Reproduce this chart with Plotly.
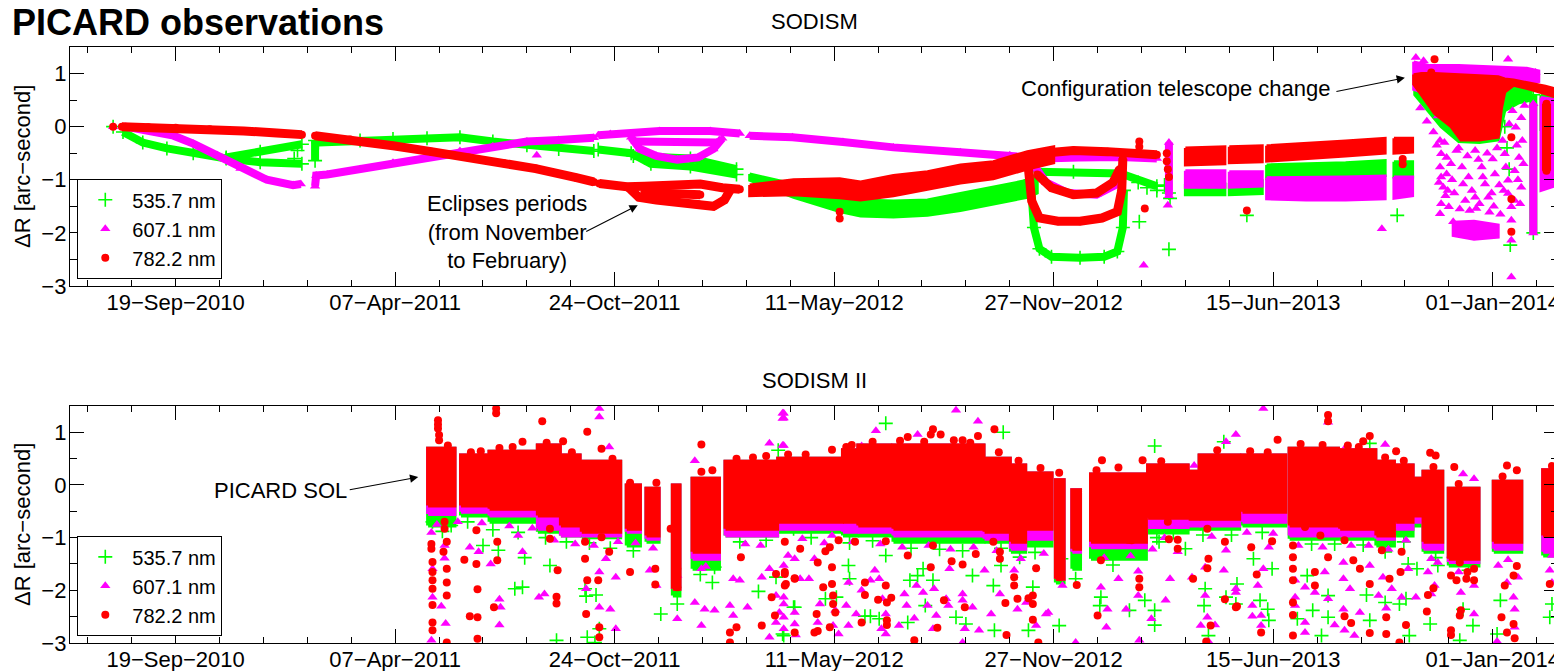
import plotly.graph_objects as go

FONT = "Liberation Sans, Arial, Helvetica, sans-serif"
GREEN, MAGENTA, RED = "#00ff00", "#ff00ff", "#ff0000"

series_names = ["535.7 nm", "607.1 nm", "782.2 nm"]
panel_titles = ["SODISM", "SODISM II"]
tick_dates = ["2010-09-19", "2011-04-07", "2011-10-24", "2012-05-11", "2012-11-27", "2013-06-15", "2014-01-01"]
tick_labels = ["19\u2212Sep\u22122010", "07\u2212Apr\u22122011", "24\u2212Oct\u22122011", "11\u2212May\u22122012",
               "27\u2212Nov\u22122012", "15\u2212Jun\u22122013", "01\u2212Jan\u22122014"]
x_range = ["2010-06-14 17:00", "2014-03-01 12:00"]

# ---------------- SODISM (top panel) ----------------
grn_top_track_x = ["2010-07-24", None,
    "2010-08-02", "2010-08-20", "2010-09-11", "2010-10-05", "2010-11-04", "2010-12-05", "2011-01-12", None,
    "2010-11-04", "2010-12-05", "2011-01-12", None,
    "2011-01-24", "2011-01-24", None,
    "2011-01-27", "2011-03-06", "2011-04-05", "2011-05-06", "2011-06-05", "2011-07-05", "2011-08-05", "2011-09-03", "2011-10-05", None,
    "2011-10-09", "2011-11-08", "2011-11-26", "2012-01-01", "2012-02-12", None,
    "2011-11-10", "2012-01-01", "2012-02-12", None,
    "2012-11-06", "2012-11-09", "2012-11-14", "2012-11-25", "2012-12-21", "2013-01-12", "2013-01-24", "2013-01-29", "2013-01-30", None,
    "2012-11-12", "2012-12-15", "2013-01-27", "2013-03-01", None,
    "2014-02-07", "2014-02-07"]
grn_top_track_y = [0.0, None,
    -0.10, -0.30, -0.41, -0.50, -0.60, -0.67, -0.70, None,
    -0.58, -0.47, -0.33, None,
    -0.26, -0.64, None,
    -0.30, -0.26, -0.23, -0.22, -0.20, -0.28, -0.35, -0.42, -0.46, None,
    -0.43, -0.50, -0.70, -0.75, -0.90, None,
    -0.55, -0.60, -0.80, None,
    -1.00, -1.90, -2.30, -2.45, -2.47, -2.45, -2.35, -1.90, -1.20, None,
    -0.85, -0.85, -0.88, -1.12, None,
    0.60, -2.00]
grn_top_band_x = ["2012-02-24", "2012-04-04", "2012-05-16", "2012-06-04", "2012-07-04", "2012-08-04", "2012-09-03", "2012-10-03", "2012-11-03", "2012-11-12", None,
    "2013-03-27", "2013-05-02", None,
    "2013-05-06", "2013-06-05", None,
    "2013-06-09", "2013-07-15", "2013-08-20", "2013-09-25", None,
    "2013-10-03", "2013-10-20", None,
    "2013-10-22", "2013-11-01", "2013-11-15", "2013-12-01", "2013-12-20", "2014-01-06", "2014-01-12", "2014-01-25", "2014-02-05", None,
    "2014-02-14", "2014-03-01"]
grn_top_band_lo = [-1.01, -1.33, -1.60, -1.68, -1.70, -1.67, -1.58, -1.45, -1.33, -1.25, None,
    -1.28, -1.28, None, -1.28, -1.26, None, -0.98, -0.96, -0.94, -0.92, None, -0.95, -0.95, None,
    0.60, 0.35, 0.00, -0.28, -0.30, -0.25, 0.30, 0.45, 0.50, None, -0.05, 0.00]
grn_top_band_hi = [-0.89, -1.08, -1.30, -1.38, -1.40, -1.38, -1.26, -1.14, -1.01, -0.90, None,
    -1.08, -1.08, None, -1.06, -1.02, None, -0.72, -0.70, -0.68, -0.64, None, -0.66, -0.66, None,
    1.00, 1.00, 1.00, 0.95, 0.95, 0.95, 0.95, 0.90, 0.85, None, 0.60, 0.55]
grn_top_pts = [("2013-02-13", -1.79), ("2013-03-12", -2.31), ("2013-05-22", -1.67), ("2013-10-06", -1.67), ("2014-01-17", -2.23),
    ("2013-02-12", -1.05), ("2013-02-20", -1.15), ("2013-03-01", -1.20), ("2013-03-08", -1.10), ("2013-03-12", -1.25), ("2013-03-13", -1.35),
    ("2014-01-12", 0.00), ("2014-01-14", -0.40), ("2014-01-16", -0.80), ("2011-01-05", -0.60), ("2011-01-08", -0.45)]

mag_top_track_x = ["2010-07-24", None,
    "2010-08-04", "2010-09-05", "2010-09-17", "2010-10-05", "2010-10-27", "2010-11-17", "2010-12-11", "2011-01-04", "2011-01-11", None,
    "2011-01-24", "2011-01-25", "2011-02-04", "2011-03-06", "2011-04-05", "2011-05-06", "2011-06-05", "2011-07-05", "2011-08-05", "2011-09-03", "2011-10-05", None,
    "2011-10-09", "2011-10-20", "2011-12-04", "2012-01-19", "2012-02-15", None,
    "2011-11-08", "2011-11-16", "2011-12-01", "2011-12-20", "2012-01-08", "2012-01-22", "2012-01-30", None,
    "2011-11-12", "2012-01-25", None,
    "2012-02-24", "2012-04-03", "2012-05-19", "2012-07-04", "2012-09-03", "2012-10-18", "2012-11-17", "2012-12-20", "2013-01-27", "2013-03-01", None,
    "2012-11-08", "2012-11-20", "2012-12-10", "2013-01-05", "2013-01-22", "2013-01-27", None,
    "2013-03-12", "2013-03-12", None,
    "2014-02-07", "2014-02-07"]
mag_top_track_y = [0.0, None,
    0.00, -0.11, -0.17, -0.32, -0.54, -0.79, -1.00, -1.10, -1.08, None,
    -1.12, -0.92, -0.90, -0.80, -0.68, -0.58, -0.46, -0.37, -0.28, -0.25, -0.21, None,
    -0.16, -0.14, -0.08, -0.08, -0.13, None,
    -0.20, -0.42, -0.55, -0.62, -0.58, -0.42, -0.22, None,
    -0.28, -0.30, None,
    -0.17, -0.20, -0.29, -0.39, -0.48, -0.54, -0.60, -0.58, -0.57, -0.60, None,
    -0.70, -1.05, -1.25, -1.28, -1.10, -0.80, None,
    -0.30, -1.30, None,
    0.43, -2.00]
mag_top_band_x = ["2013-03-27", "2013-05-02", None,
    "2013-05-06", "2013-06-05", None,
    "2013-06-09", "2013-07-15", "2013-08-20", "2013-09-25", None,
    "2013-10-03", "2013-10-20", None,
    "2013-10-21", "2013-11-05", "2013-12-01", "2014-01-01", "2014-02-01", "2014-02-12", None,
    "2013-11-26", "2013-12-15", "2014-01-06", None,
    "2014-02-14", "2014-03-01"]
mag_top_band_lo = [-1.14, -1.14, None, -1.14, -1.12, None, -1.36, -1.38, -1.38, -1.36, None, -1.35, -1.30, None,
    0.70, 0.60, 0.70, 0.75, 0.80, 0.85, None, -2.05, -2.12, -2.08, None, -1.20, -1.10]
mag_top_band_hi = [-0.83, -0.83, None, -0.85, -0.85, None, -0.96, -0.96, -0.95, -0.93, None, -0.95, -0.95, None,
    1.22, 1.15, 1.15, 1.12, 1.10, 1.05, None, -1.80, -1.78, -1.85, None, 0.55, 0.50]
mag_top_pts = [("2011-08-14", -0.54), ("2013-02-17", -2.61), ("2013-03-11", -1.48), ("2013-09-22", -1.92), ("2014-01-18", -2.14), ("2014-01-18", -2.83),
    ("2013-10-23", 1.30), ("2013-10-30", 1.24), ("2014-01-15", 1.27), ("2014-02-09", 1.02),
    ("2013-10-27", 0.35), ("2013-11-02", 0.10), ("2013-11-08", -0.10), ("2013-11-12", 0.20),
    ("2013-11-14", -0.26), ("2013-11-15", -0.51), ("2013-11-14", -0.76), ("2013-11-15", -0.95), ("2013-11-17", -1.14), ("2013-11-15", -1.45), ("2013-11-14", -1.64),
    ("2013-11-20", -0.58), ("2013-11-20", -0.89), ("2013-11-21", -1.20), ("2013-11-22", -1.51), ("2013-11-26", -1.79), ("2013-11-29", -0.45), ("2013-12-04", -0.76),
    ("2013-12-05", -1.08), ("2013-12-07", -1.39), ("2013-12-11", -1.58), ("2013-12-16", -0.45), ("2013-12-16", -1.33), ("2013-12-17", -1.54), ("2013-12-22", -0.76),
    ("2013-12-23", -0.95), ("2013-12-25", -1.08), ("2013-12-28", -1.33), ("2013-12-29", -1.61), ("2014-01-01", -0.61), ("2014-01-03", -0.89),
    ("2014-01-10", -0.26), ("2014-01-12", -0.51), ("2014-01-13", -0.76), ("2014-01-15", -1.01), ("2014-01-15", -1.26), ("2014-01-18", -1.51), ("2014-01-18", -1.76),
    ("2014-01-21", -1.39), ("2014-01-21", -0.83), ("2014-01-22", -0.01), ("2014-01-25", -0.58), ("2014-01-27", -1.14), ("2014-01-27", 0.17), ("2014-01-28", -0.26),
    ("2013-11-11", -0.35), ("2013-11-13", -1.05), ("2013-11-18", -0.30), ("2013-11-19", -1.30), ("2013-11-24", -0.70), ("2013-11-25", -1.00), ("2013-11-27", -1.25),
    ("2013-12-01", -0.40), ("2013-12-02", -1.55), ("2013-12-09", -0.55), ("2013-12-10", -0.95), ("2013-12-13", -1.20), ("2013-12-19", -0.62), ("2013-12-20", -1.45),
    ("2013-12-27", -0.50), ("2013-12-31", -1.25), ("2014-01-02", -1.50), ("2014-01-05", -0.40), ("2014-01-07", -1.10), ("2014-01-08", -1.65), ("2014-01-11", -1.20),
    ("2014-01-16", 0.05), ("2014-01-19", 0.30), ("2014-01-23", -0.35), ("2014-01-24", -1.00), ("2014-01-26", -1.45), ("2014-01-29", -0.70), ("2014-01-30", 0.40)]

red_top_track_x = ["2010-07-24", None,
    "2010-08-01", "2010-08-25", "2010-09-19", "2010-10-20", "2010-11-20", "2010-12-20", "2011-01-12", None,
    "2011-01-24", "2011-02-25", "2011-04-05", "2011-05-10", "2011-06-13", "2011-07-15", "2011-08-13", "2011-09-19", "2011-10-05", None,
    "2011-10-10", "2011-11-04", "2011-11-20", "2011-12-20", "2012-01-10", "2012-01-30", "2012-02-15", None,
    "2011-11-06", "2011-11-15", "2011-12-01", "2011-12-20", "2012-01-08", "2012-01-22", "2012-02-01", "2012-02-06", None,
    "2011-11-20", "2012-01-10", None,
    "2012-11-04", "2012-11-07", "2012-11-14", "2012-12-01", "2012-12-21", "2013-01-10", "2013-01-24", "2013-01-28", "2013-01-29", None,
    "2012-11-12", "2012-11-25", "2012-12-15", "2013-01-05", "2013-01-20", "2013-01-26", None,
    "2012-11-27", "2012-12-15", "2013-01-15", "2013-02-10", "2013-03-01", None,
    "2014-02-19", "2014-02-19"]
red_top_track_y = [0.0, None,
    0.00, -0.01, -0.02, -0.05, -0.08, -0.12, -0.15, None,
    -0.17, -0.24, -0.36, -0.47, -0.58, -0.69, -0.79, -0.96, -1.04, None,
    -1.07, -1.13, -1.12, -1.10, -1.08, -1.15, -1.18, None,
    -1.15, -1.33, -1.38, -1.41, -1.46, -1.50, -1.38, -1.20, None,
    -1.24, -1.28, None,
    -0.80, -1.40, -1.72, -1.78, -1.78, -1.72, -1.60, -1.20, -0.60, None,
    -0.90, -1.15, -1.28, -1.25, -1.05, -0.80, None,
    -0.48, -0.45, -0.47, -0.50, -0.53, None,
    0.43, -0.83]
red_top_band_x = ["2012-02-24", "2012-04-04", "2012-05-16", "2012-06-04", "2012-07-04", "2012-08-04", "2012-09-03", "2012-10-03", "2012-11-03", "2012-11-27", None,
    "2013-03-27", "2013-05-02", None,
    "2013-05-06", "2013-06-05", None,
    "2013-06-09", "2013-07-15", "2013-08-20", "2013-09-25", None,
    "2013-10-03", "2013-10-20", None,
    "2013-10-21", "2013-10-28", "2013-11-09", "2013-11-24", "2013-12-03", "2013-12-20", "2014-01-06", "2014-01-09", "2014-01-12", "2014-01-20", "2014-02-05", "2014-02-18", "2014-03-01"]
red_top_band_lo = [-1.30, -1.28, -1.34, -1.38, -1.30, -1.18, -1.06, -0.98, -0.80, -0.68, None,
    -0.72, -0.70, None, -0.68, -0.66, None, -0.65, -0.60, -0.55, -0.50, None, -0.50, -0.48, None,
    0.80, 0.60, 0.25, 0.00, -0.25, -0.25, -0.20, 0.35, 0.65, 0.78, 0.70, 0.62, 0.55]
red_top_band_hi = [-1.10, -1.00, -0.98, -1.04, -0.92, -0.85, -0.72, -0.66, -0.47, -0.38, None,
    -0.40, -0.38, None, -0.38, -0.36, None, -0.36, -0.32, -0.27, -0.22, None, -0.22, -0.22, None,
    0.98, 1.00, 1.00, 0.99, 0.98, 0.96, 0.94, 0.92, 0.90, 0.88, 0.82, 0.76, 0.70]
red_top_pts = [("2012-05-16", -1.60), ("2012-05-16", -1.73), ("2013-02-18", -1.54), ("2013-05-22", -1.58), ("2013-10-11", -0.71), ("2013-10-11", -0.61),
    ("2013-11-09", 1.27), ("2013-11-06", 1.02), ("2014-01-18", -0.20), ("2014-01-18", -1.36), ("2014-01-18", -1.98),
    ("2013-02-13", -0.28), ("2013-02-13", -0.38), ("2013-03-10", -0.50), ("2013-03-10", -0.65), ("2013-03-11", -0.80), ("2013-03-12", -0.95)]

# ---------------- SODISM II (bottom panel) ----------------
bot_block_start = ["2011-05-07", "2011-06-06", "2011-07-02", "2011-08-15", "2011-09-05", "2011-09-24", "2011-11-04", "2011-11-22", "2011-12-16", "2012-01-03",
    "2012-02-02", "2012-03-21", "2012-05-19", "2012-06-02", "2012-07-04", "2012-09-25", "2012-10-19", "2012-11-02", "2012-11-29", "2012-12-14",
    "2012-12-31", "2013-02-21", "2013-03-30", "2013-04-09", "2013-05-18", "2013-06-30", "2013-08-15", "2013-09-17", "2013-10-05", "2013-10-21",
    "2013-10-30", "2013-11-22", "2014-01-02", "2014-02-16"]
bot_block_end = ["2011-05-31", "2011-06-30", "2011-08-14", "2011-09-04", "2011-09-22", "2011-10-29", "2011-11-16", "2011-12-03", "2011-12-22", "2012-01-27",
    "2012-03-20", "2012-05-18", "2012-06-01", "2012-07-01", "2012-09-24", "2012-10-18", "2012-11-01", "2012-11-25", "2012-12-06", "2012-12-21",
    "2013-02-19", "2013-03-29", "2013-04-08", "2013-05-15", "2013-06-26", "2013-08-13", "2013-09-16", "2013-10-03", "2013-10-20", "2013-10-27",
    "2013-11-16", "2013-12-19", "2014-01-27", "2014-03-01"]
red_bot_hi = [0.69, 0.56, 0.63, 0.75, 0.56, 0.44, -0.01, -0.07, -0.01, 0.12, 0.44, 0.50, 0.66, 0.75, 0.75, 0.50, 0.37, 0.22, 0.09, -0.10,
    0.20, 0.37, 0.25, 0.56, 0.56, 0.69, 0.66, 0.44, 0.37, 0.12, 0.25, -0.07, 0.06, 0.28]
red_bot_lo = [-0.39, -0.39, -0.45, -0.58, -0.77, -0.89, -0.83, -0.96, -1.97, -1.27, -0.83, -0.70, -0.70, -0.77, -0.83, -0.89, -1.08, -0.83, -1.78, -1.21,
    -1.08, -0.62, -0.64, -0.64, -0.51, -0.77, -0.83, -0.96, -0.70, -0.58, -1.08, -1.40, -1.08, -0.96]
mag_bot_lo = [-0.55, -0.51, -0.58, -0.83, -0.96, -0.96, -0.89, -1.02, -1.97, -1.40, -0.96, -0.83, -0.89, -0.89, -0.96, -1.02, -1.21, -1.02, -1.78, -1.27,
    -1.18, -0.80, -0.77, -0.77, -0.70, -0.96, -0.96, -1.02, -0.83, -0.70, -1.21, -1.46, -1.21, -1.27]
grn_bot_lo = [-0.77, -0.58, -0.70, -0.89, -0.96, -0.99, -1.15, -1.08, -2.10, -1.59, -0.96, -0.89, -0.96, -0.96, -1.08, -1.08, -1.27, -1.15, -1.85, -1.59,
    -1.40, -0.90, -0.83, -0.83, -0.77, -1.02, -1.02, -1.15, -0.96, -0.77, -1.27, -1.53, -1.27, -1.34]

red_bot_pts = [
    ("2011-05-16", 1.23), ("2011-05-16", 1.07), ("2011-05-16", 1.15), ("2011-05-17", 0.95), ("2011-05-17", 0.85),
    ("2011-07-08", 1.45), ("2011-07-08", 1.36), ("2011-08-19", 1.21), ("2011-09-29", 1.01), ("2011-08-01", 0.82), ("2011-09-07", 0.83), ("2011-10-12", 0.69), ("2012-01-11", 0.77), ("2012-03-30", 0.58),
    ("2011-05-10", -1.12), ("2011-05-10", -1.21), ("2011-05-11", -1.46), ("2011-05-11", -1.65), ("2011-05-11", -1.81), ("2011-05-11", -1.97), ("2011-05-11", -2.28), ("2011-05-11", -2.61), ("2011-05-11", -2.76),
    ("2011-05-24", -1.59), ("2011-05-24", -1.85), ("2011-05-24", -2.10), ("2011-05-24", -2.99), ("2011-05-22", -0.70), ("2011-05-22", -0.83), ("2011-05-24", -1.08), ("2011-05-21", -1.27),
    ("2011-06-09", -1.42), ("2011-06-20", -0.86), ("2011-06-20", -1.50), ("2011-06-21", -1.98), ("2011-06-14", -2.49), ("2011-06-21", -2.51), ("2011-06-21", -2.92),
    ("2011-07-06", -2.32), ("2011-07-09", -1.08), ("2011-07-09", -1.43),
    ("2011-08-26", -0.83), ("2011-08-26", -1.02), ("2011-09-02", -1.62), ("2011-09-01", -2.12), ("2011-09-01", -2.25),
    ("2011-09-27", -1.08), ("2011-09-27", -1.40), ("2011-09-28", -2.45), ("2011-09-29", -1.81), ("2011-10-09", -1.81), ("2011-10-10", -2.89), ("2011-10-10", -2.70), ("2011-10-12", -0.99), ("2011-10-19", -1.27),
    ("2011-11-07", -1.65), ("2011-11-30", -1.59), ("2011-11-30", -1.89), ("2011-12-14", -0.83), ("2011-12-20", -1.59), ("2011-12-20", -1.94),
    ("2012-02-06", -2.80), ("2012-02-06", -2.99), ("2012-02-12", -2.70), ("2012-02-16", -1.37), ("2012-03-06", -2.67), ("2012-03-15", -2.13), ("2012-03-18", -2.48), ("2012-03-19", -1.69), ("2012-03-27", -1.65), ("2012-03-28", -1.88), ("2012-04-05", -1.77),
    ("2012-05-09", 0.67), ("2012-05-22", 0.72), ("2012-07-17", 0.91), ("2012-08-09", 1.06), ("2012-08-16", 0.96), ("2012-08-07", 0.96), ("2012-09-05", 0.85), ("2012-09-19", 0.93), ("2012-10-04", 1.06), ("2012-12-02", 0.23), ("2013-01-10", 0.47), ("2013-02-16", 0.47),
    ("2012-03-27", -1.08), ("2012-03-27", -1.69), ("2012-03-27", -1.91), ("2012-04-10", -1.21), ("2012-04-05", -1.78), ("2012-04-05", -2.80),
    ("2012-04-25", -2.45), ("2012-04-23", -2.80), ("2012-04-26", -2.77), ("2012-05-01", -1.94), ("2012-05-07", -1.18), ("2012-05-09", -1.56), ("2012-05-09", -1.88), ("2012-05-10", -2.10), ("2012-05-10", -2.26), ("2012-05-12", -2.42), ("2012-05-07", -2.70), ("2012-04-26", -1.47), ("2012-05-03", -1.26), ("2012-05-15", -1.05), ("2012-05-30", -1.08),
    ("2012-06-05", -2.61), ("2012-06-08", -1.85), ("2012-06-08", -2.09), ("2012-06-20", -2.18), ("2012-06-27", -1.07), ("2012-06-27", -1.91), ("2012-06-28", -2.23), ("2012-06-28", -2.57), ("2012-06-28", -2.66), ("2012-07-02", -2.14),
    ("2012-07-17", -1.34), ("2012-07-23", -2.95), ("2012-08-07", -1.56), ("2012-08-09", -1.15), ("2012-08-13", -2.71), ("2012-08-19", -2.19), ("2012-08-26", -1.45), ("2012-09-05", -1.51), ("2012-09-07", -2.32), ("2012-09-17", -1.31),
    ("2012-10-03", -1.08), ("2012-10-09", -1.27), ("2012-10-09", -1.40), ("2012-10-14", -2.24), ("2012-10-15", -2.85), ("2012-10-22", -1.75), ("2012-10-22", -1.91), ("2012-10-25", -2.16), ("2012-11-04", -2.15), ("2012-11-08", -2.10), ("2012-11-08", -2.26), ("2012-11-08", -2.56), ("2012-11-11", -1.58), ("2012-11-13", -2.99),
    ("2012-12-02", -1.75), ("2012-12-18", -1.90), ("2013-01-09", -1.43), ("2013-01-06", -2.48), ("2013-02-03", -1.04), ("2013-02-06", -1.05), ("2013-02-13", -1.78), ("2013-02-13", -1.94), ("2013-03-12", -1.03), ("2013-03-11", -0.70),
    ("2013-06-19", 0.86), ("2013-08-04", 1.33), ("2013-08-04", 1.21), ("2013-09-05", 0.83), ("2013-09-11", 0.93), ("2013-10-05", 0.64), ("2013-11-05", 0.61), ("2013-11-10", 0.56), ("2013-11-27", 0.34), ("2014-01-14", 0.37), ("2014-01-23", 0.28), ("2014-02-24", 0.36),
    ("2013-03-20", -1.04), ("2013-03-20", -1.21), ("2013-04-03", -1.78), ("2013-04-16", -0.83), ("2013-04-17", -1.40), ("2013-04-16", -1.58), ("2013-04-19", -2.67), ("2013-04-15", -2.97), ("2013-05-02", -1.08), ("2013-05-02", -2.17), ("2013-05-13", -2.30), ("2013-05-12", -2.32), ("2013-05-26", -1.18), ("2013-05-31", -1.70), ("2013-06-04", -2.80), ("2013-06-14", -1.07),
    ("2013-07-03", -1.15), ("2013-07-03", -1.37), ("2013-07-03", -1.59), ("2013-07-03", -1.81), ("2013-07-03", -2.23), ("2013-07-03", -2.47), ("2013-07-03", -2.86), ("2013-07-14", -0.80), ("2013-07-23", -1.65), ("2013-07-23", -1.91), ("2013-07-28", -0.96), ("2013-08-04", -1.37),
    ("2013-08-19", -1.05), ("2013-08-27", -1.43), ("2013-08-19", -2.49), ("2013-08-25", -2.62), ("2013-09-02", -1.59), ("2013-09-11", -1.88), ("2013-09-11", -2.81), ("2013-09-22", -1.24), ("2013-09-26", -2.51), ("2013-09-26", -2.83), ("2013-09-29", -1.78), ("2013-10-10", -1.27), ("2013-10-09", -1.65), ("2013-10-08", -2.99), ("2013-10-14", -2.66),
    ("2013-11-02", -2.40), ("2013-11-08", -1.96), ("2013-11-03", -2.09), ("2013-11-24", -1.72), ("2013-11-29", -1.81), ("2013-11-24", -2.76), ("2013-11-24", -2.85), ("2013-12-02", -1.47), ("2013-12-03", -2.38), ("2013-12-02", -2.48), ("2013-12-08", -1.78), ("2013-12-09", -1.65), ("2013-12-15", -1.81), ("2013-12-15", -1.59),
    ("2014-01-09", -2.51), ("2014-01-12", -1.91), ("2014-01-14", -2.80), ("2014-01-20", -2.64), ("2014-01-20", -1.72), ("2014-01-23", -1.54), ("2014-01-21", -2.91), ("2014-02-22", -1.88), ("2014-02-22", -0.93),
    # dots on the ragged top edge of the dense bands
    ("2011-05-25", 0.75), ("2011-06-15", 0.62), ("2011-06-24", 0.64), ("2011-07-11", 0.70), ("2011-07-23", 0.72), ("2011-08-23", 0.80), ("2011-09-15", 0.62), ("2011-10-22", 0.50),
    ("2011-11-07", 0.04), ("2011-12-01", 0.04), ("2012-01-11", 0.25), ("2012-01-21", 0.28), ("2012-02-12", 0.50), ("2012-02-27", 0.52), ("2012-03-10", 0.55), ("2012-04-15", 0.58),
    ("2012-05-27", 0.76), ("2012-06-15", 0.82), ("2012-07-10", 0.84), ("2012-08-01", 0.82), ("2012-08-28", 0.85), ("2012-09-12", 0.80), ("2012-10-08", 0.62), ("2012-10-26", 0.46),
    ("2012-11-15", 0.32), ("2013-01-05", 0.28), ("2013-01-25", 0.33), ("2013-03-05", 0.45), ("2013-04-25", 0.66), ("2013-05-25", 0.64), ("2013-06-10", 0.62), ("2013-07-10", 0.78),
    ("2013-07-30", 0.76), ("2013-08-22", 0.75), ("2013-09-01", 0.72), ("2013-09-25", 0.52), ("2013-10-12", 0.46), ("2013-11-08", 0.34), ("2013-12-01", 0.02), ("2014-01-10", 0.16)]

mag_bot_pts = [
    ("2011-10-10", 1.45), ("2011-10-10", 1.29), ("2011-10-19", 0.72), ("2012-01-05", 0.46), ("2012-03-25", 1.36), ("2012-03-25", 1.26), ("2012-03-13", 0.79), ("2012-03-25", 0.75),
    ("2011-05-10", -0.90), ("2011-05-11", -1.59), ("2011-05-11", -2.13), ("2011-05-10", -2.95), ("2011-05-22", -1.15), ("2011-05-19", -2.30), ("2011-05-23", -2.63), ("2011-05-22", -1.39),
    ("2011-06-14", -1.18), ("2011-06-22", -1.27), ("2011-07-03", -1.50), ("2011-07-11", -2.17), ("2011-07-11", -2.66), ("2011-07-12", -2.32), ("2011-08-01", -1.27), ("2011-07-28", -0.96),
    ("2011-08-16", -2.13), ("2011-08-21", -2.07), ("2011-09-28", -1.97), ("2011-10-10", -1.65), ("2011-10-10", -2.32), ("2011-10-20", -2.36), ("2011-10-25", -2.73), ("2011-10-16", -1.40), ("2011-10-25", -1.75),
    ("2011-11-25", -1.62), ("2011-12-01", -1.91), ("2011-12-20", -1.72), ("2011-12-20", -2.54),
    ("2012-01-05", -2.23), ("2012-01-11", -2.67), ("2012-01-14", -2.36), ("2012-01-23", -2.38), ("2012-01-11", -1.59),
    ("2012-02-09", -1.78), ("2012-02-15", -1.81), ("2012-02-06", -2.29), ("2012-02-09", -2.48), ("2012-02-22", -2.32),
    ("2012-03-06", -1.75), ("2012-03-13", -1.59), ("2012-03-19", -2.10), ("2012-03-19", -2.61), ("2012-03-13", -2.89), ("2012-03-22", -2.42), ("2012-03-30", -1.34),
    ("2012-03-26", 1.36), ("2012-03-26", 1.27), ("2012-08-30", 1.42), ("2012-09-19", 1.21), ("2012-06-18", 1.03), ("2012-07-26", 0.96), ("2012-03-26", 0.75), ("2012-06-05", 0.74), ("2012-09-20", 0.61),
    ("2012-03-26", -1.53), ("2012-03-26", -2.13), ("2012-03-26", -2.51), ("2012-03-26", -2.73), ("2012-03-26", -2.26),
    ("2012-04-05", -1.40), ("2012-04-05", -2.42), ("2012-04-05", -2.64), ("2012-04-06", -2.85), ("2012-04-10", -1.78), ("2012-04-18", -1.78),
    ("2012-04-23", -1.40), ("2012-04-28", -2.26), ("2012-04-26", -2.61), ("2012-05-09", -0.96), ("2012-05-10", -2.67), ("2012-05-12", -2.38), ("2012-05-15", -2.83), ("2012-05-22", -2.29), ("2012-05-24", -1.85), ("2012-05-24", -2.67), ("2012-05-31", -2.45), ("2012-06-05", -2.00),
    ("2012-06-13", -1.81), ("2012-06-17", -1.62), ("2012-06-21", -1.78), ("2012-06-23", -2.73), ("2012-06-27", -2.83), ("2012-06-24", -2.16), ("2012-06-27", -2.45),
    ("2012-07-09", -2.67), ("2012-07-16", -2.29), ("2012-07-14", -2.07), ("2012-07-23", -2.53), ("2012-07-25", -1.91), ("2012-07-31", -2.04), ("2012-08-04", -2.29), ("2012-08-09", -2.73), ("2012-08-12", -2.48), ("2012-08-10", -1.97),
    ("2012-08-21", -2.16), ("2012-08-23", -2.29), ("2012-08-24", -1.59), ("2012-09-05", -2.07), ("2012-09-07", -2.73), ("2012-09-05", -2.99), ("2012-09-05", -2.19), ("2012-09-14", -2.32), ("2012-09-20", -2.76),
    ("2012-09-25", -1.62), ("2012-10-01", -2.45), ("2012-10-09", -2.07), ("2012-10-22", -1.62), ("2012-10-25", -2.36), ("2012-11-02", -2.23), ("2012-11-11", -2.67), ("2012-11-20", -2.45), ("2012-11-22", -2.42), ("2012-12-02", -1.59), ("2012-12-05", -1.91), ("2012-12-17", -2.99),
    ("2013-01-09", -1.94), ("2013-01-15", -2.36), ("2013-01-14", -2.70), ("2013-01-25", -1.78), ("2013-02-01", -2.36), ("2013-02-12", -1.64), ("2013-02-12", -2.10), ("2013-02-13", -2.95), ("2013-02-24", -2.54), ("2013-02-25", -1.22), ("2013-03-09", -2.19), ("2013-03-20", -1.27),
    ("2013-06-06", 1.45), ("2013-08-04", 1.19), ("2013-05-12", 0.96), ("2013-05-03", 0.82), ("2013-08-21", 0.74), ("2013-09-25", 0.77), ("2013-12-05", 0.21), ("2013-12-15", 0.12), ("2013-04-04", 0.37),
    ("2013-03-13", -1.78), ("2013-04-02", -1.75), ("2013-04-14", -1.56), ("2013-04-14", -2.10), ("2013-04-16", -2.51), ("2013-04-23", -2.66), ("2013-04-10", -2.67), ("2013-04-17", -2.97),
    ("2013-05-03", -1.24), ("2013-05-01", -1.62), ("2013-05-12", -1.97), ("2013-05-12", -2.04), ("2013-05-27", -2.29), ("2013-05-27", -2.49), ("2013-06-01", -1.91), ("2013-06-04", -2.48), ("2013-06-04", -2.67), ("2013-06-06", -1.59), ("2013-06-11", -1.18),
    ("2013-07-05", -1.81), ("2013-07-05", -2.13), ("2013-07-05", -2.29), ("2013-07-14", -1.94), ("2013-07-14", -2.61), ("2013-07-14", -2.80), ("2013-07-23", -2.04), ("2013-08-01", -1.65), ("2013-08-04", -2.16), ("2013-08-10", -2.66),
    ("2013-08-18", -1.47), ("2013-08-18", -1.78), ("2013-08-18", -2.36), ("2013-08-19", -2.76), ("2013-08-24", -1.97), ("2013-08-28", -2.86), ("2013-09-02", -2.42), ("2013-09-11", -1.53), ("2013-09-19", -2.10), ("2013-09-23", -1.75), ("2013-09-26", -2.34), ("2013-10-01", -1.97),
    ("2013-10-10", -2.13), ("2013-10-16", -1.59), ("2013-10-23", -2.13), ("2013-11-03", -1.65), ("2013-11-06", -2.07), ("2013-11-09", -1.91), ("2013-11-12", -1.47), ("2013-11-24", -1.34), ("2013-12-03", -2.04), ("2013-12-15", -1.91), ("2013-12-15", -2.45),
    ("2014-01-06", -1.53), ("2014-01-05", -2.97), ("2014-01-14", -1.85), ("2014-01-20", -2.13), ("2014-01-21", -2.70), ("2014-01-24", -1.75), ("2014-01-21", -2.36), ("2014-02-24", -1.85), ("2014-02-24", -1.34), ("2014-02-22", -1.62),
    # triangles along the lower fringe of the dense bands
    ("2011-05-15", -0.75), ("2011-06-03", -0.70), ("2011-06-25", -0.72), ("2011-07-20", -0.78), ("2011-08-10", -0.82), ("2011-08-30", -1.05), ("2011-09-18", -1.12), ("2011-10-05", -1.15),
    ("2011-10-27", -1.08), ("2011-11-12", -1.10), ("2011-11-28", -1.20), ("2012-01-15", -1.55), ("2012-02-20", -1.12), ("2012-03-05", -1.15), ("2012-04-12", -1.02), ("2012-05-02", -1.10),
    ("2012-05-28", -1.08), ("2012-06-22", -1.12), ("2012-07-12", -1.18), ("2012-08-05", -1.15), ("2012-08-25", -1.22), ("2012-09-15", -1.18), ("2012-10-06", -1.25), ("2012-10-28", -1.40),
    ("2012-11-18", -1.30), ("2013-01-12", -1.38), ("2013-02-05", -1.35), ("2013-03-08", -1.00), ("2013-04-20", -0.98), ("2013-05-22", -0.90), ("2013-06-15", -0.92), ("2013-07-08", -1.15),
    ("2013-07-30", -1.18), ("2013-08-25", -1.15), ("2013-09-10", -1.15), ("2013-09-28", -1.22), ("2013-10-14", -1.05), ("2013-11-06", -1.40), ("2013-12-01", -1.65), ("2014-01-15", -1.42)]

grn_bot_pts = [
    ("2011-05-11", -0.70), ("2011-05-28", -0.77), ("2011-06-26", -1.15), ("2011-07-10", -1.24), ("2011-08-03", -1.38), ("2011-07-25", -1.97), ("2011-08-01", -1.94), ("2011-08-26", -1.53), ("2011-09-01", -2.95),
    ("2011-09-27", -1.97), ("2011-09-28", -2.11), ("2011-10-07", -2.09), ("2011-09-29", -2.89), ("2011-10-06", -2.99), ("2011-10-10", -2.73), ("2011-12-05", -2.45), ("2011-12-20", -2.26),
    ("2012-01-23", -1.56), ("2012-01-21", -1.85), ("2012-03-03", -2.02), ("2012-03-25", -2.83), ("2012-04-04", -2.32), ("2012-03-21", 0.66), ("2012-03-19", -1.75),
    ("2012-06-27", 1.17), ("2012-10-12", 1.00), ("2013-02-27", 0.74),
    ("2012-04-04", -0.83), ("2012-04-05", -2.32), ("2012-03-26", -2.86), ("2012-05-03", -2.16), ("2012-05-13", -2.13), ("2012-05-24", -1.53), ("2012-05-25", -1.78), ("2012-06-08", -2.49), ("2012-06-13", -2.49), ("2012-06-21", -2.54),
    ("2012-06-27", -1.34), ("2012-07-17", -2.61), ("2012-07-19", -1.81), ("2012-07-26", -1.72), ("2012-07-31", -1.59), ("2012-08-02", -2.29), ("2012-08-09", -1.81), ("2012-08-30", -2.51), ("2012-09-08", -2.64), ("2012-09-14", -1.72),
    ("2012-10-03", -1.91), ("2012-10-04", -2.76), ("2012-10-10", -1.53), ("2012-10-27", -1.37), ("2012-11-04", -2.76), ("2012-11-08", -1.94), ("2012-12-02", -2.67), ("2012-12-04", -1.40), ("2012-12-17", -1.78),
    ("2013-01-09", -2.13), ("2013-01-08", -2.29), ("2013-02-04", -2.38), ("2013-02-18", -2.19), ("2013-02-27", -2.38), ("2013-02-27", -2.66), ("2013-03-03", -1.08),
    ("2013-05-01", 0.82), ("2013-09-11", 0.79), ("2013-03-27", -1.21), ("2013-03-16", -0.90), ("2013-04-14", -1.97), ("2013-04-13", -2.29), ("2013-04-17", -2.86), ("2013-05-03", -2.13), ("2013-05-13", -1.88), ("2013-05-12", -2.26),
    ("2013-05-28", -1.40), ("2013-06-03", -2.19), ("2013-06-10", -2.36), ("2013-06-14", -1.59), ("2013-06-11", -2.57), ("2013-07-07", -2.54), ("2013-07-16", -1.72), ("2013-07-21", -2.38), ("2013-07-29", -2.86), ("2013-08-04", -2.10), ("2013-08-04", -2.51),
    ("2013-09-08", -2.09), ("2013-09-11", -2.57), ("2013-09-25", -2.23), ("2013-10-08", -2.26), ("2013-10-14", -2.16), ("2013-10-16", -1.50), ("2013-10-17", -2.86), ("2013-10-24", -1.59), ("2013-11-05", -2.64), ("2013-11-12", -1.53),
    ("2013-12-02", -2.95), ("2013-12-05", -2.36), ("2013-12-14", -2.67), ("2014-01-05", -2.83), ("2014-01-08", -2.19), ("2014-02-24", -2.26), ("2014-02-22", -2.51),
    # crosses along the lower fringe of the dense bands
    ("2011-05-20", -0.88), ("2011-06-12", -0.70), ("2011-07-05", -0.85), ("2011-07-28", -0.90), ("2011-08-22", -1.00), ("2011-09-10", -1.08), ("2011-10-01", -1.10), ("2011-10-20", -1.20),
    ("2011-11-10", -1.25), ("2012-01-10", -1.70), ("2012-02-15", -1.08), ("2012-03-10", -1.05), ("2012-04-20", -1.00), ("2012-05-25", -1.10), ("2012-06-15", -1.06), ("2012-07-20", -1.20),
    ("2012-08-15", -1.22), ("2012-09-05", -1.25), ("2012-10-10", -1.20), ("2012-11-10", -1.28), ("2013-01-20", -1.52), ("2013-03-01", -1.00), ("2013-04-12", -0.95), ("2013-05-08", -0.95),
    ("2013-06-05", -0.90), ("2013-07-20", -1.12), ("2013-08-10", -1.12), ("2013-09-05", -1.14), ("2013-09-25", -1.27), ("2013-10-12", -1.08), ("2013-11-10", -1.38), ("2013-12-10", -1.62)]


# ---------------- helpers ----------------
def band_xy(xs, lo, hi):
    X, Y, seg = [], [], []
    for d, l, h in list(zip(xs, lo, hi)) + [(None, None, None)]:
        if d is None:
            if seg:
                ds = [s[0] for s in seg]; ls = [s[1] for s in seg]; hs = [s[2] for s in seg]
                X += ds + ds[::-1] + [ds[0], None]
                Y += hs + ls[::-1] + [hs[0], None]
            seg = []
        else:
            seg.append((d, l, h))
    return X, Y


def block_xy(starts, ends, lo, hi):
    X, Y = [], []
    for s, e, l, h in zip(starts, ends, lo, hi):
        X += [s, e, e, s, s, None]
        Y += [l, l, h, h, l, None]
    return X, Y


MK = {
    "g": dict(symbol="cross-thin", size=10, color=GREEN, line=dict(width=1.6, color=GREEN)),
    "m": dict(symbol="triangle-up", size=9, color=MAGENTA, line=dict(width=0)),
    "r": dict(symbol="circle", size=8, color=RED, line=dict(width=0)),
}
COL = {"g": GREEN, "m": MAGENTA, "r": RED}

fig = go.Figure()


def add_fill(X, Y, k, xa, ya, lw):
    fig.add_trace(go.Scatter(x=X, y=Y, mode="lines", fill="toself", fillcolor=COL[k],
                             line=dict(color=COL[k], width=lw), hoverinfo="skip", showlegend=False,
                             xaxis=xa, yaxis=ya))


def add_track(X, Y, k, xa, ya, lw):
    fig.add_trace(go.Scatter(x=X, y=Y, mode="lines+markers", line=dict(color=COL[k], width=lw),
                             marker=MK[k], hoverinfo="skip", showlegend=False, xaxis=xa, yaxis=ya))


def add_pts(P, k, xa, ya):
    fig.add_trace(go.Scatter(x=[p[0] for p in P], y=[p[1] for p in P], mode="markers", marker=MK[k],
                             hoverinfo="skip", showlegend=False, xaxis=xa, yaxis=ya))


# top panel (draw order: green, magenta, red)
add_fill(*band_xy(grn_top_band_x, grn_top_band_lo, grn_top_band_hi), "g", "x", "y", 3)
add_track(grn_top_track_x, grn_top_track_y, "g", "x", "y", 8)
add_pts(grn_top_pts, "g", "x", "y")
add_fill(*band_xy(mag_top_band_x, mag_top_band_lo, mag_top_band_hi), "m", "x", "y", 3)
add_track(mag_top_track_x, mag_top_track_y, "m", "x", "y", 8)
add_pts(mag_top_pts, "m", "x", "y")
add_fill(*band_xy(red_top_band_x, red_top_band_lo, red_top_band_hi), "r", "x", "y", 3)
add_track(red_top_track_x, red_top_track_y, "r", "x", "y", 9)
add_pts(red_top_pts, "r", "x", "y")

# bottom panel
add_fill(*block_xy(bot_block_start, bot_block_end, grn_bot_lo, red_bot_hi), "g", "x2", "y2", 4)
add_pts(grn_bot_pts, "g", "x2", "y2")
add_fill(*block_xy(bot_block_start, bot_block_end, mag_bot_lo, red_bot_hi), "m", "x2", "y2", 4)
add_pts(mag_bot_pts, "m", "x2", "y2")
add_fill(*block_xy(bot_block_start, bot_block_end, red_bot_lo, red_bot_hi), "r", "x2", "y2", 4)
add_pts(red_bot_pts, "r", "x2", "y2")

# legend entries
for lg, xa, ya in (("legend", "x", "y"), ("legend2", "x2", "y2")):
    for k, name in zip("gmr", series_names):
        fig.add_trace(go.Scatter(x=[None], y=[None], mode="markers", marker=MK[k], name=name,
                                 legend=lg, xaxis=xa, yaxis=ya, showlegend=True))

xcommon = dict(type="date", range=x_range, tickmode="array", tickvals=tick_dates, ticktext=tick_labels,
               ticks="inside", ticklen=14, tickwidth=1.2, tickcolor="black", automargin=False,
               showline=True, linecolor="black", linewidth=1.3, mirror="ticks", ticklabelstandoff=-4,
               showgrid=False, zeroline=False, tickfont=dict(size=22),
               minor=dict(ticks="inside", ticklen=6, tickwidth=1.2, tickcolor="black",
                          dtick=40 * 86400000, tick0="2010-09-19", showgrid=False))
ycommon = dict(range=[-3, 1.5], tickmode="array", tickvals=[-3, -2, -1, 0, 1],
               ticks="inside", ticklen=14, tickwidth=1.2, tickcolor="black", automargin=False,
               showline=True, linecolor="black", linewidth=1.3, mirror="ticks", ticklabelstandoff=-2,
               showgrid=False, zeroline=False, tickfont=dict(size=22),
               minor=dict(ticks="inside", ticklen=7, tickwidth=1.2, tickcolor="black", dtick=0.5, tick0=0, showgrid=False))

legend_common = dict(x=0.0047, xanchor="left", yanchor="bottom", bgcolor="white", bordercolor="black",
                     borderwidth=1.3, font=dict(size=20), tracegroupgap=0, itemwidth=44)

# the page body adds an 8 px offset, so the figure is 8 px smaller than the window
fig.update_layout(
    width=1554, height=663, margin=dict(l=62, r=4, t=39, b=28, autoexpand=False),
    paper_bgcolor="white", plot_bgcolor="white",
    font=dict(family=FONT, size=22, color="black"),
    xaxis=dict(domain=[0, 1], anchor="y", **xcommon),
    yaxis=dict(domain=[0.599, 1], anchor="x", **ycommon),
    xaxis2=dict(domain=[0, 1], anchor="y2", **xcommon),
    yaxis2=dict(domain=[0, 0.3977], anchor="x2", **ycommon),
    legend=dict(y=0.6107, **legend_common),
    legend2=dict(y=0.0117, **legend_common),
    showlegend=True,
)

anns = [
    dict(text="<b>PICARD observations</b>", xref="paper", yref="paper", x=0, xshift=-60, y=1.0419,
         xanchor="left", yanchor="middle", showarrow=False, font=dict(size=36)),
    dict(text=panel_titles[0], xref="paper", yref="paper", x=0.5, y=1.0436, xanchor="center", yanchor="middle", showarrow=False),
    dict(text=panel_titles[1], xref="paper", yref="paper", x=0.5, y=0.4396, xanchor="center", yanchor="middle", showarrow=False),
    dict(text="\u0394R [arc\u2212second]", xref="paper", yref="paper", x=0, xshift=-47.5, y=0.7995, textangle=-90,
         xanchor="center", yanchor="middle", showarrow=False),
    dict(text="\u0394R [arc\u2212second]", xref="paper", yref="paper", x=0, xshift=-47.5, y=0.1988, textangle=-90,
         xanchor="center", yanchor="middle", showarrow=False),
    dict(text="Configuration telescope change", xref="paper", yref="paper", x=0.743, y=0.9312,
         xanchor="center", yanchor="middle", showarrow=False),
    dict(text="Eclipses periods<br>(from November<br>to February)", xref="paper", yref="paper", x=0.2937, y=0.6896,
         xanchor="center", yanchor="middle", align="center", showarrow=False),
    dict(text="PICARD SOL", xref="paper", yref="paper", x=0.1418, y=0.2567, xanchor="center", yanchor="middle", showarrow=False),
    dict(text="", xref="x", yref="y", x="2013-10-13", y=0.92, ax=-70, ay=14, showarrow=True,
         arrowhead=2, arrowsize=1.5, arrowwidth=1.1, arrowcolor="black"),
    dict(text="", xref="x", yref="y", x="2011-11-14", y=-1.48, ax=-53, ay=27, showarrow=True,
         arrowhead=2, arrowsize=1.5, arrowwidth=1.1, arrowcolor="black"),
    dict(text="", xref="x2", yref="y2", x="2011-04-28", y=0.15, ax=-70, ay=13, showarrow=True,
         arrowhead=2, arrowsize=1.5, arrowwidth=1.1, arrowcolor="black"),
]
fig.update_layout(annotations=anns)

fig.write_html("out.html")
